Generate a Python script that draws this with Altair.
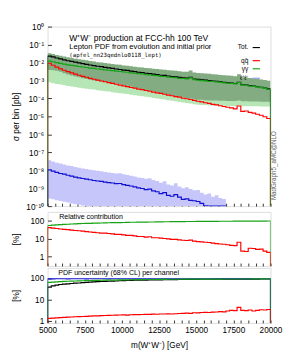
import altair as alt
import pandas as pd

M_MIN, M_MAX, BIN_W = 5000, 20000, 250

# ---- main panel: log10(sigma per bin [pb]) per 250 GeV bin ----
tot_log = [-1.64, -1.69, -1.75, -1.80, -1.85, -1.90, -1.94, -1.98, -2.02, -2.06, -2.10, -2.14,
           -2.17, -2.21, -2.23, -2.27, -2.30, -2.33, -2.36, -2.39, -2.42, -2.44, -2.48, -2.51,
           -2.54, -2.56, -2.60, -2.62, -2.65, -2.67, -2.71, -2.72, -2.75, -2.78, -2.80, -2.83,
           -2.85, -2.87, -2.82, -2.92, -2.94, -2.97, -2.98, -3.01, -3.03, -3.05, -3.08, -3.10,
           -3.12, -3.15, -3.17, -3.10, -3.24, -3.26, -3.29, -3.31, -3.34, -3.38, -3.42, -3.47]
aa_log = [-1.92, -1.96, -2.01, -2.05, -2.09, -2.13, -2.16, -2.19, -2.22, -2.25, -2.28, -2.31,
          -2.33, -2.36, -2.38, -2.41, -2.43, -2.45, -2.48, -2.50, -2.53, -2.54, -2.58, -2.60,
          -2.62, -2.64, -2.68, -2.69, -2.72, -2.73, -2.77, -2.78, -2.81, -2.83, -2.85, -2.88,
          -2.89, -2.91, -2.86, -2.96, -2.98, -3.01, -3.02, -3.05, -3.06, -3.08, -3.11, -3.13,
          -3.15, -3.17, -3.19, -3.12, -3.26, -3.28, -3.31, -3.33, -3.36, -3.40, -3.44, -3.49]
qq_log = [-2.04, -2.15, -2.26, -2.35, -2.43, -2.51, -2.58, -2.65, -2.71, -2.77, -2.82, -2.88,
          -2.93, -2.98, -3.03, -3.07, -3.12, -3.16, -3.21, -3.26, -3.30, -3.34, -3.39, -3.43,
          -3.48, -3.51, -3.56, -3.60, -3.65, -3.69, -3.72, -3.77, -3.82, -3.85, -3.90, -3.93,
          -3.99, -4.02, -4.06, -4.11, -4.16, -4.19, -4.24, -4.28, -4.33, -4.36, -4.41, -4.45,
          -4.49, -4.53, -4.58, -4.42, -4.72, -4.70, -4.78, -4.82, -4.88, -4.94, -5.02, -5.12]
ll_log = [-7.98, -8.05, -8.12, -8.18, -8.22, -8.28, -8.33, -8.38, -8.43, -8.46, -8.50, -8.53,
          -8.57, -8.60, -8.62, -8.66, -8.69, -8.71, -8.75, -8.74, -8.80, -8.84, -8.88, -8.93,
          -8.98, -9.02, -9.08, -9.05, -9.15, -9.20, -9.30, -9.25, -9.40, -9.45, -9.36, -9.50,
          -9.62, -9.60, -9.68, -9.70, -9.74, -9.85, -9.98, -10.05, -10.10, -10.05, -10.20, -10.15]

# uncertainty bands (log10 pb)
tot_hi_log = [-1.48, -1.53, -1.58, -1.63, -1.67, -1.71, -1.75, -1.79, -1.82, -1.85, -1.88, -1.92,
              -1.95, -1.98, -2.00, -2.03, -2.06, -2.08, -2.11, -2.13, -2.16, -2.18, -2.21, -2.23,
              -2.26, -2.28, -2.31, -2.32, -2.35, -2.36, -2.39, -2.40, -2.43, -2.45, -2.46, -2.49,
              -2.51, -2.52, -2.45, -2.56, -2.58, -2.60, -2.61, -2.63, -2.65, -2.67, -2.69, -2.71,
              -2.72, -2.74, -2.76, -2.66, -2.82, -2.83, -2.86, -2.87, -2.91, -2.94, -2.98, -3.02]
tot_lo_log = [-2.42, -2.43, -2.46, -2.52, -2.60, -2.67, -2.73, -2.78, -2.82, -2.87, -2.92, -2.96,
              -3.00, -3.03, -3.06, -3.09, -3.12, -3.15, -3.18, -3.21, -3.25, -3.30, -3.35, -3.40,
              -3.45, -3.49, -3.53, -3.58, -3.62, -3.66, -3.71, -3.75, -3.80, -3.84, -3.87, -3.91,
              -3.95, -3.98, -4.01, -4.04, -4.07, -4.08, -4.10, -4.11, -4.12, -4.12, -4.13, -4.13,
              -4.14, -4.14, -4.15, -4.12, -4.16, -4.16, -4.17, -4.17, -4.17, -4.18, -4.18, -4.18]
aa_lo_log = [-3.10, -3.15, -3.20, -3.23, -3.27, -3.31, -3.34, -3.37, -3.40, -3.43, -3.46, -3.49,
             -3.51, -3.54, -3.57, -3.60, -3.62, -3.65, -3.68, -3.71, -3.73, -3.76, -3.79, -3.82,
             -3.85, -3.88, -3.91, -3.94, -3.97, -4.00, -4.03, -4.06, -4.10, -4.13, -4.16, -4.20,
             -4.23, -4.26, -4.29, -4.33, -4.35, -4.36, -4.37, -4.38, -4.39, -4.40, -4.40, -4.41,
             -4.42, -4.42, -4.43, -4.40, -4.43, -4.44, -4.44, -4.44, -4.44, -4.45, -4.45, -4.45]
ll_hi_log = [-7.45, -7.52, -7.58, -7.63, -7.68, -7.73, -7.77, -7.82, -7.86, -7.90, -7.93, -7.97,
             -8.00, -8.03, -8.06, -8.10, -8.12, -8.15, -8.18, -8.17, -8.23, -8.27, -8.31, -8.35,
             -8.40, -8.44, -8.48, -8.45, -8.55, -8.60, -8.70, -8.62, -8.80, -8.85, -8.72, -8.90,
             -9.00, -8.95, -9.05, -9.12, -9.10, -9.25, -9.35, -9.30, -9.48, -9.40, -9.55, -9.60]
ll_lo_log = [-9.58, -9.62, -9.67, -9.72, -9.76, -9.80, -9.85, -9.89, -9.93, -9.97] + [-12.0] * 38

# ---- relative contribution [%] ----
aa_frac = [53, 55, 57, 59, 61, 62, 64, 65, 67, 68, 69, 70, 71, 72, 73, 74, 75, 76, 77, 77,
           78, 79, 80, 80, 81, 82, 82, 83, 83, 84, 84, 85, 85, 86, 86, 87, 87, 88, 88, 88,
           89, 89, 89, 90, 90, 90, 91, 91, 91, 91, 92, 92, 92, 92, 93, 93, 93, 93, 93, 94]
qq_frac = [40, 38, 36, 34, 32, 31, 29, 28, 27, 26, 24, 23, 22, 21, 20, 20, 19, 18, 17, 17,
           16, 15, 15, 14, 13, 13, 12, 12.5, 11, 11, 10.5, 10, 9.5, 9, 9, 8.5, 8, 7.8, 8.2, 7.2,
           6.8, 6.5, 6.2, 6.0, 5.6, 5.2, 5.0, 4.8, 4.5, 4.2, 4.0, 6.2, 2.0, 1.9, 2.9, 2.8,
           2.5, 2.6, 2.0, 1.7]

# ---- PDF uncertainty (68% CL) per channel [%] ----
unc_tot = [38, 43, 47, 50, 52, 54, 56, 58, 59, 61, 63, 65, 66, 68, 69, 70, 71, 72, 73, 75,
           76, 77, 78, 79, 80, 80, 81, 82, 82, 83, 83, 84, 84, 85, 85, 86, 86, 86, 87, 87,
           87, 88, 88, 88, 88, 89, 89, 89, 89, 89, 90, 89, 90, 90, 90, 90, 90, 91, 91, 91]
unc_aa = [63, 65, 67, 68, 70, 71, 72, 73, 74, 75, 76, 77, 78, 78, 79, 80, 80, 81, 81, 82,
          83, 83, 84, 84, 85, 85, 86, 86, 86, 87, 87, 87, 88, 88, 88, 88, 89, 89, 89, 89,
          89, 90, 90, 90, 90, 90, 90, 91, 91, 91, 91, 91, 91, 91, 91, 92, 92, 92, 92, 92]
unc_ll = [92, 92, 93, 93, 93, 92, 93, 93, 93, 93, 92, 93, 93, 93, 93, 93, 92, 93, 93, 93,
          93, 93, 93, 92, 93, 93, 93, 93, 93, 93, 93, 93, 92, 93, 93, 93, 93, 93, 93, 93,
          93, 93, 93, 93, 92, 93, 93, 93, 93, 93, 93, 93, 93, 92, 93, 93, 93, 93, 93, 93]
unc_qq = [1.30, 1.35, 1.38, 1.42, 1.45, 1.48, 1.52, 1.55, 1.58, 1.60, 1.63, 1.66, 1.70, 1.72,
          1.75, 1.78, 1.80, 1.83, 1.85, 1.88, 1.90, 1.86, 1.92, 1.95, 1.97, 1.98, 2.00, 2.02,
          2.05, 2.03, 2.08, 2.10, 2.12, 2.10, 2.15, 2.20, 2.22, 2.30, 2.25, 2.40, 2.35, 2.45,
          2.50, 2.45, 2.55, 2.60, 2.70, 2.65, 2.90, 3.10, 3.00, 4.30, 3.10, 3.00, 3.20, 2.90,
          3.10, 3.30, 3.20, 3.40]

LEG_NAMES = ["Tot.", "qq\u0304", "\u03b3\u03b3", "\u2113\u207a\u2113\u207b"]
X_TICKS = list(range(5000, 20001, 500))

BLACK, RED, GREEN, BLUE = "#000000", "#ff0000", "#17a317", "#1010d0"
LEG_COLORS = [BLACK, RED, GREEN, "#9a9aff"]
FONT = "Liberation Sans"
W = 231
H_MAIN, H_REL, H_UNC = 186, 56, 57
FLOOR = 1e-30


def pw(a):
    return [10 ** v for v in a]


def step_df(vals):
    n = len(vals)
    xs = [M_MIN + BIN_W * i for i in range(n + 1)]
    x = [xs[0]] + xs[:n] + [xs[n], xs[n]]
    y = [FLOOR] + list(vals) + [vals[-1], FLOOR]
    return pd.DataFrame({"m": x, "v": y, "o": list(range(len(x)))})


def band_df(lo, hi):
    n = len(lo)
    xs = [M_MIN + BIN_W * i for i in range(n + 1)]
    return pd.DataFrame({"m": xs, "lo": list(lo) + [lo[-1]], "hi": list(hi) + [hi[-1]]})


def x_enc(labels):
    if labels:
        ax = alt.Axis(values=X_TICKS, title="m(W\u207aW\u207b) [GeV]",
                      labelExpr="datum.value % 2500 == 0 ? format(datum.value, 'd') : ''",
                      tickSize=3, offset=-3, domain=False, labelPadding=3, grid=False,
                      labelFontSize=8.5, titleFontSize=8.5, titleFontWeight="normal",
                      titlePadding=7, labelFlush=False, tickColor="#333")
    else:
        ax = alt.Axis(values=X_TICKS, labels=False, title=None, tickSize=3, offset=-3,
                      domain=False, grid=False, tickColor="#333")
    return alt.X("m:Q", scale=alt.Scale(domain=[M_MIN, M_MAX], nice=False, zero=False), axis=ax)


SUP = "['\u2070','\u00b9','\u00b2','\u00b3','\u2074','\u2075','\u2076','\u2077','\u2078','\u2079','\u00b9\u2070']"
MAIN_LABEL = ("'10' + (datum.value >= 1 ? '\u2070' : '\u207b' + " + SUP +
              "[round(-log(datum.value)/LN10)])")

main_scale = alt.Scale(type="log", domain=[1e-10, 1], clamp=True)
main_axis = alt.Axis(values=[10 ** (-k) for k in range(11)], labelExpr=MAIN_LABEL,
                     tickSize=4, offset=-4, domain=False, labelPadding=4, grid=False,
                     title="\u03c3 per bin [pb]", titleX=-37, titleY=H_MAIN / 2,
                     titleAngle=270, titleBaseline="middle", titleFontWeight="normal",
                     titleFontSize=8.5, labelFontSize=8.5, tickColor="#333")


def pct_axis(h):
    return alt.Axis(values=[1, 10, 100], tickSize=4, offset=-4, domain=False, labelPadding=4,
                    grid=False, title="[%]", titleX=-37, titleY=h / 2, titleAngle=270,
                    titleBaseline="middle", titleFontWeight="normal", titleFontSize=8.5,
                    labelFontSize=8.5, tickColor="#333")


def yv(field, scale, axis):
    return alt.Y(field, scale=scale, axis=axis)


def line(vals, color, scale, axis, labels=False):
    return alt.Chart(step_df(vals)).mark_line(
        interpolate="step-after", color=color, strokeWidth=1.2, clip=True
    ).encode(x=x_enc(labels), y=yv("v:Q", scale, axis), order="o:Q")


def band(lo, hi, color, opacity):
    return alt.Chart(band_df(lo, hi)).mark_area(
        interpolate="step-after", color=color, opacity=opacity, clip=True
    ).encode(x=x_enc(False), y=yv("hi:Q", main_scale, main_axis), y2="lo:Q")


def text(s, x, y, size, font=FONT, align="left", color="#000", angle=0):
    return alt.Chart(pd.DataFrame({"t": [s]})).mark_text(
        align=align, baseline="middle", fontSize=size, font=font, color=color, angle=angle
    ).encode(x=alt.value(x), y=alt.value(y), text="t:N")


# ---------------- main panel ----------------
main_layers = [
    band(pw(aa_lo_log), pw(tot_hi_log), "#b6e6b6", 1.0),
    band(pw(tot_lo_log), pw(tot_hi_log), "#3d5c3d", 0.42),
    band(pw(ll_lo_log), pw(ll_hi_log), "#c6c6fb", 1.0),
    line(pw(tot_log), BLACK, main_scale, main_axis),
    line(pw(qq_log), RED, main_scale, main_axis),
    line(pw(ll_log), BLUE, main_scale, main_axis),
    line(pw(aa_log), GREEN, main_scale, main_axis),
    text("W\u207aW\u207b production at FCC-hh 100 TeV", 22.5, 11.5, 8.8),
    text("Lepton PDF from evolution and initial prior", 22.5, 20.8, 7.9),
    text("(apfel_nn23qednlo0118_lept)", 22.5, 30, 5.9, font="DejaVu Sans Mono"),
    text("MadGraph5_aMC@NLO", W + 4, 144, 6.5, align="center", color="#666", angle=270),
]
LEG_Y = [21.7, 35.3, 43.7, 53.5]
for name, col, ly in zip(LEG_NAMES, LEG_COLORS, LEG_Y):
    main_layers.append(text(name, 208, ly, 6.8, align="right"))
    main_layers.append(
        alt.Chart(pd.DataFrame({"a": [0]})).mark_rule(color=col, strokeWidth=1.2).encode(
            x=alt.value(212.5), x2=alt.value(220), y=alt.value(ly)))

main = alt.layer(*main_layers).properties(width=W, height=H_MAIN)

# ---------------- relative contribution ----------------
rel_scale = alt.Scale(type="log", domain=[0.3, 300], clamp=True)
rel_axis = pct_axis(H_REL)
rel = alt.layer(
    line(aa_frac, GREEN, rel_scale, rel_axis),
    line(qq_frac, RED, rel_scale, rel_axis),
    text("Relative contribution", 12, 5.5, 7.3),
).properties(width=W, height=H_REL)

# ---------------- PDF uncertainty ----------------
unc_scale = alt.Scale(type="log", domain=[0.8, 300], clamp=True)
unc_axis = pct_axis(H_UNC)
unc = alt.layer(
    line(unc_tot, BLACK, unc_scale, unc_axis, True),
    line(unc_ll, BLUE, unc_scale, unc_axis, True),
    line(unc_aa, GREEN, unc_scale, unc_axis, True),
    line(unc_qq, RED, unc_scale, unc_axis, True),
    text("PDF uncertainty (68% CL) per channel", 11, 5, 7.3),
).properties(width=W, height=H_UNC)

chart = alt.vconcat(main, rel, unc, spacing=0).properties(
    padding={"left": 3, "top": 8, "right": 2, "bottom": 0}
).configure_view(stroke="#444", strokeWidth=1).configure_axis(
    labelFont=FONT, titleFont=FONT, labelColor="#000", titleColor="#000"
).configure(background="white")

chart.save("out.html", embed_options={"renderer": "svg", "actions": False})
